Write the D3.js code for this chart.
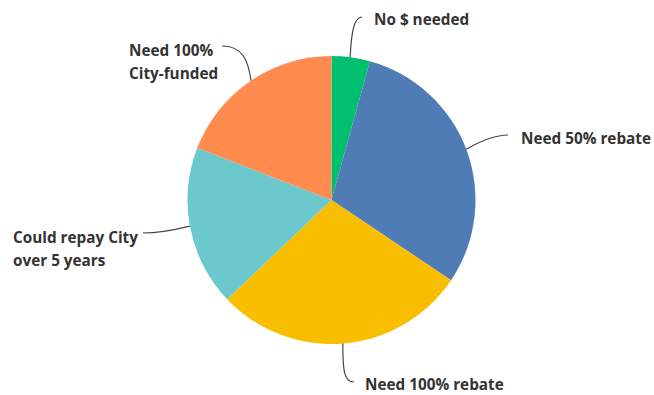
<!DOCTYPE html>
<html>
<head>
<meta charset="utf-8">
<script src="https://cdn.jsdelivr.net/npm/d3@7"></script>
<style>
  html, body { margin: 0; padding: 0; background: #fff; }
  svg { display: block; }
  .lbl { font-family: "Open Sans", sans-serif; font-weight: 700; font-size: 15.3px; fill: #333; }
</style>
</head>
<body>
<svg id="chart" width="654" height="395"></svg>
<script>
// Survey answers, clockwise from 12 o'clock
const categories = ["No $ needed", "Need 50% rebate", "Need 100% rebate", "Could repay City over 5 years", "Need 100% City-funded"];
const shares = [4.3, 30.1, 28.5, 18.0, 19.1];
const colors = ["#00bf6f", "#507cb6", "#f9be00", "#6bc8cd", "#ff8b4f"];
// label text, broken into lines
const labelLines = [["No $ needed"], ["Need 50% rebate"], ["Need 100% rebate"], ["Could repay City", "over 5 years"], ["Need 100%", "City-funded"]];

const W = 654, H = 395;
const cx = 331.5, cy = 200, R = 144;

const svg = d3.select("#chart");
const g = svg.append("g").attr("transform", `translate(${cx},${cy})`);

const pie = d3.pie().sort(null).value(d => d);
const arcs = pie(shares);
const arc = d3.arc().innerRadius(0).outerRadius(R);

g.selectAll("path.slice")
  .data(arcs)
  .join("path")
  .attr("class", "slice")
  .attr("d", arc)
  .attr("fill", (d, i) => colors[i]);

// Leader line and label placement for each slice
const layout = [
  { rim: 0.13, end: [362, 17], text: [374, 24.5], mode: "up" },
  { rim: 1.21, end: [508, 135], text: [521, 144], mode: "side" },
  { rim: 3.063, end: [354, 382], text: [365, 389.5], mode: "down" },
  { rim: 4.53, end: [143, 233], text: [13, 243], mode: "side" },
  { rim: 5.69, end: [222, 46], text: [129, 55.5], mode: "up" }
];

arcs.forEach((a, i) => {
  const L = layout[i];
  const t = L.rim;
  const sx = cx + R * Math.sin(t), sy = cy - R * Math.cos(t);
  const [ex, ey] = L.end;
  let d;
  if (L.mode === "up") {
    d = `M${sx},${sy} C${sx + (ex - sx) * 0.1},${sy - (sy - ey) * 0.6} ${sx + (ex - sx) * 0.3},${ey} ${ex},${ey}`;
  } else if (L.mode === "down") {
    d = `M${sx},${sy} C${sx},${sy + (ey - sy) * 0.7} ${sx + (ex - sx) * 0.1},${ey} ${ex},${ey}`;
  } else {
    d = `M${sx},${sy} Q${sx + (ex - sx) * 0.6},${ey} ${ex},${ey}`;
  }
  svg.append("path").attr("d", d).attr("fill", "none").attr("stroke", "#444").attr("stroke-width", 1.2);

  const txt = svg.append("text").attr("class", "lbl")
    .attr("x", L.text[0]).attr("y", L.text[1]);
  labelLines[i].forEach((s, k) => {
    txt.append("tspan").attr("x", L.text[0]).attr("dy", k === 0 ? 0 : 23).text(s);
  });
});
</script>
</body>
</html>
